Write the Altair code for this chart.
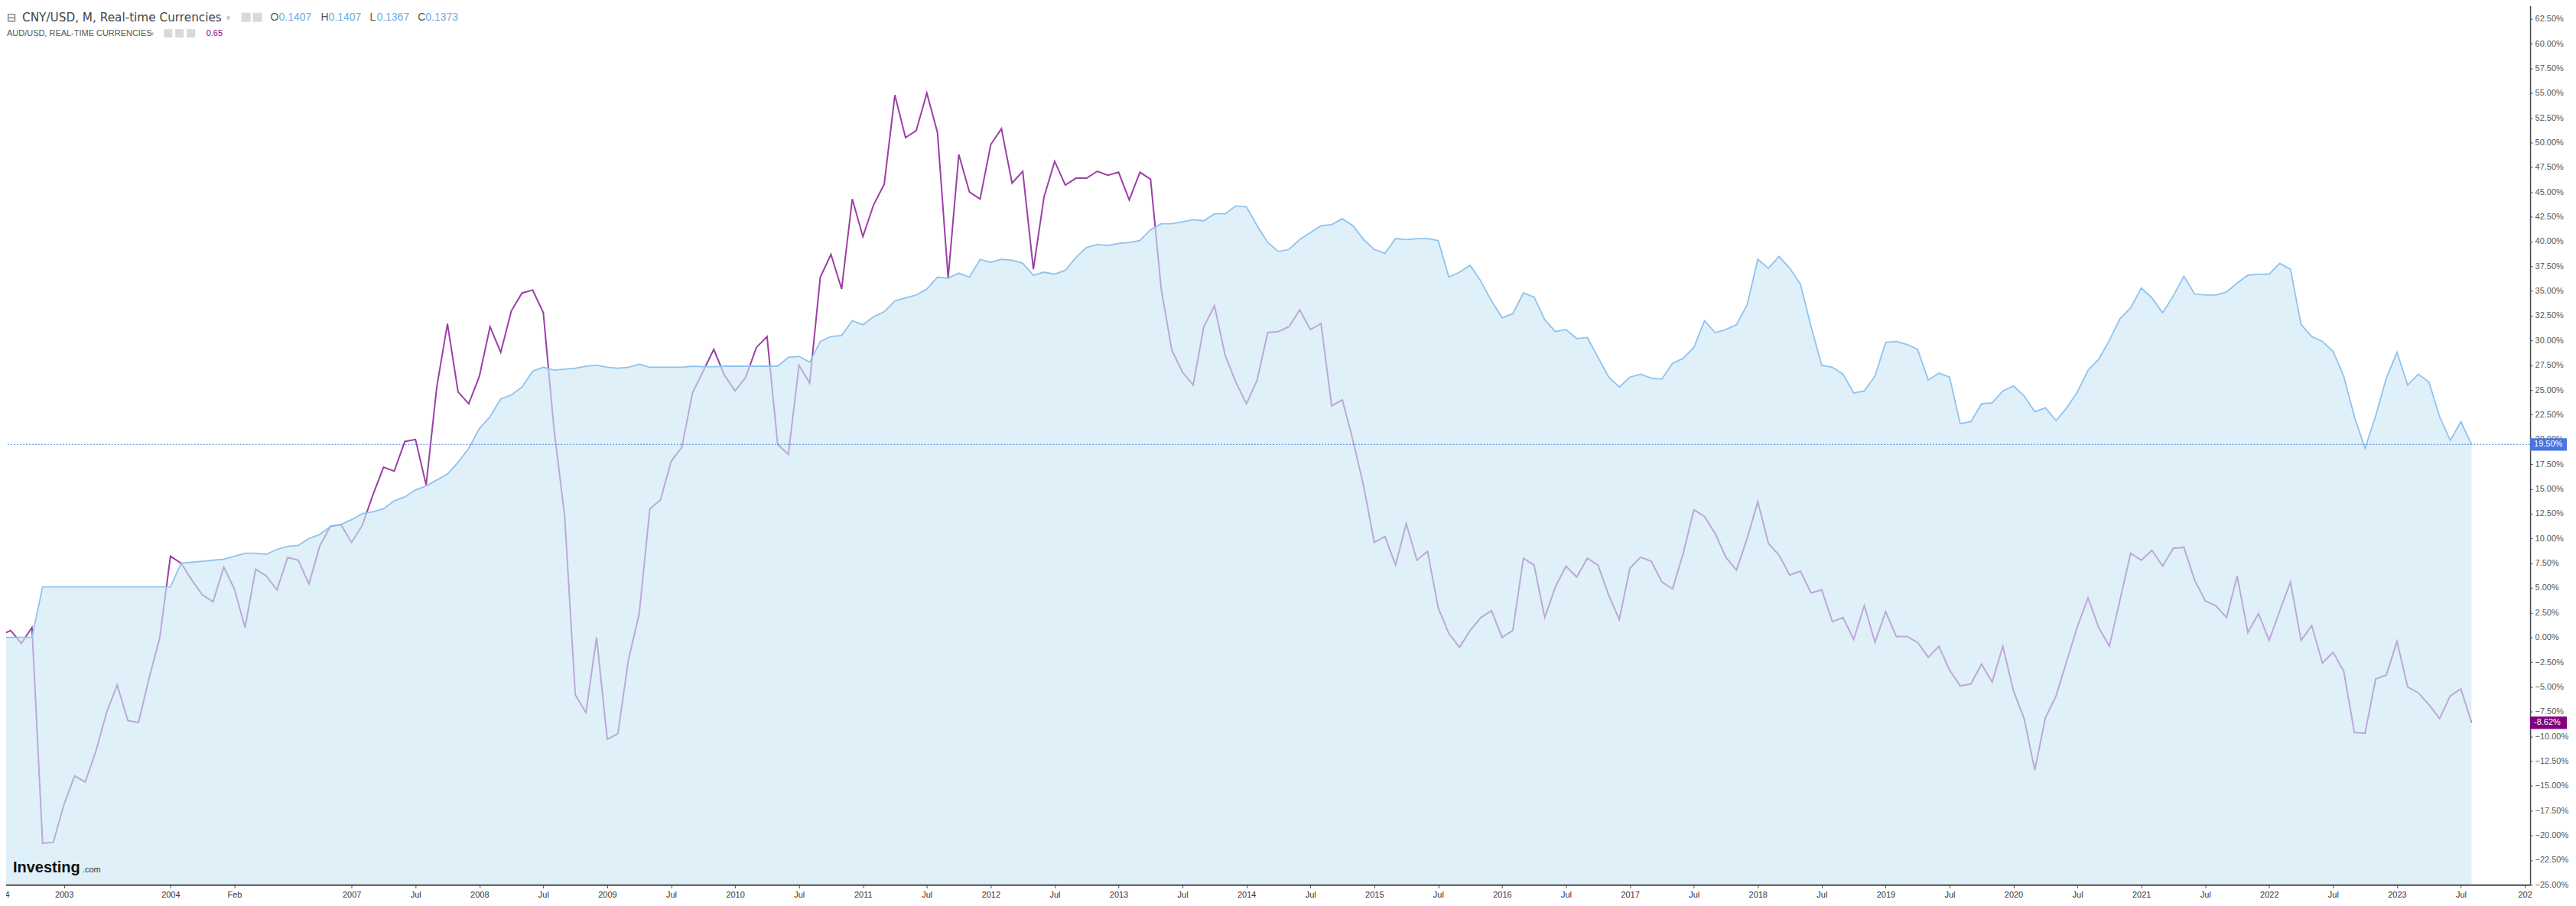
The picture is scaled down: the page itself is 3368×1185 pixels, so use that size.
import altair as alt
import pandas as pd

# ---- series values (% change), one value per monthly bar ----
cny_pct = [
    0.0, 0.0, 0.0, 0.0, 5.1, 5.1, 5.1, 5.1, 5.1, 5.1,
    5.1, 5.1, 5.1, 5.1, 5.1, 5.1, 5.1, 7.5, 7.6, 7.7,
    7.8, 7.9, 8.2, 8.5, 8.5, 8.4, 8.9, 9.2, 9.3, 10.0,
    10.4, 11.2, 11.4, 11.9, 12.5, 12.7, 13.0, 13.8, 14.2, 14.9,
    15.3, 15.9, 16.5, 17.7, 19.1, 21.1, 22.3, 24.1, 24.5, 25.3,
    26.9, 27.3, 27.0, 27.1, 27.2, 27.4, 27.5, 27.3, 27.2, 27.3,
    27.6, 27.3, 27.3, 27.3, 27.3, 27.4, 27.35, 27.35, 27.4, 27.4,
    27.4, 27.4, 27.4, 27.4, 28.3, 28.4, 27.8, 29.9, 30.4, 30.5,
    32.0, 31.6, 32.4, 32.9, 34.0, 34.3, 34.6, 35.2, 36.4, 36.3,
    36.8, 36.4, 38.2, 37.9, 38.2, 38.1, 37.8, 36.6, 36.9, 36.7,
    37.1, 38.4, 39.4, 39.7, 39.6, 39.8, 39.9, 40.1, 41.2, 41.8,
    41.8, 42.0, 42.2, 42.1, 42.8, 42.8, 43.6, 43.5, 41.6, 39.9,
    39.0, 39.2, 40.2, 40.9, 41.6, 41.7, 42.3, 41.6, 40.2, 39.2,
    38.8, 40.3, 40.2, 40.3, 40.3, 40.1, 36.4, 36.9, 37.6, 36.0,
    34.0, 32.3, 32.7, 34.8, 34.4, 32.1, 30.9, 31.1, 30.2, 30.3,
    28.3, 26.3, 25.3, 26.3, 26.6, 26.2, 26.1, 27.7, 28.2, 29.3,
    32.0, 30.8, 31.1, 31.6, 33.6, 38.2, 37.3, 38.5, 37.3, 35.7,
    31.4, 27.5, 27.3, 26.6, 24.7, 24.9, 26.4, 29.8, 29.9, 29.6,
    29.1, 26.0, 26.7, 26.3, 21.6, 21.8, 23.6, 23.7, 24.9, 25.4,
    24.4, 22.8, 23.2, 21.9, 23.2, 24.8, 27.0, 28.1, 30.0, 32.2,
    33.3, 35.3, 34.3, 32.8, 34.5, 36.5, 34.7, 34.6, 34.6, 34.9,
    35.8, 36.6, 36.7, 36.7, 37.8, 37.2, 31.6, 30.4, 29.9, 28.9,
    26.4, 22.3, 19.1, 22.4, 26.2, 28.8, 25.5, 26.6, 25.8, 22.3,
    19.9, 21.8, 19.5,
]

aud_pct = [
    0.2, 0.7, -0.6, 1.0, -20.8, -20.7, -16.9, -14.0, -14.6, -11.5,
    -7.6, -4.8, -8.4, -8.6, -4.1, 0.0, 8.2, 7.5, 5.8, 4.3,
    3.6, 7.1, 4.9, 1.0, 6.9, 6.2, 4.8, 8.1, 7.8, 5.4,
    9.2, 11.2, 11.4, 9.6, 11.3, 14.4, 17.2, 16.8, 19.8, 20.0,
    15.4, 25.3, 31.7, 24.8, 23.6, 26.4, 31.4, 28.8, 33.0, 34.8,
    35.1, 32.8, 21.1, 12.3, -5.8, -7.6, 0.0, -10.3, -9.7, -2.2,
    2.4, 13.0, 13.9, 17.8, 19.2, 24.7, 26.9, 29.1, 26.5, 24.9,
    26.3, 29.3, 30.4, 19.5, 18.5, 27.5, 25.7, 36.4, 38.7, 35.2,
    44.3, 40.5, 43.7, 45.8, 54.8, 50.5, 51.2, 55.0, 51.0, 36.3,
    48.8, 45.0, 44.3, 49.8, 51.4, 45.9, 47.1, 37.2, 44.5, 48.1,
    45.7, 46.4, 46.4, 47.1, 46.7, 47.0, 44.2, 47.0, 46.3, 35.2,
    29.0, 26.8, 25.5, 31.4, 33.5, 28.5, 25.8, 23.6, 26.0, 30.8,
    30.9, 31.4, 33.1, 31.1, 31.7, 23.4, 24.0, 19.9, 15.3, 9.6,
    10.2, 7.3, 11.5, 7.8, 8.7, 3.0, 0.4, -1.0, 0.7, 2.0,
    2.7, 0.0, 0.7, 8.0, 7.3, 2.0, 5.1, 7.2, 6.1, 8.0,
    7.3, 4.3, 1.8, 7.0, 8.1, 7.7, 5.6, 4.9, 8.5, 12.9,
    12.2, 10.5, 8.1, 6.8, 10.0, 13.7, 9.5, 8.3, 6.3, 6.7,
    4.5, 4.8, 1.6, 2.0, -0.2, 3.2, -0.5, 2.6, 0.1, 0.1,
    -0.5, -2.0, -0.9, -3.3, -4.9, -4.7, -2.7, -4.5, -0.9, -5.4,
    -8.2, -13.4, -8.1, -5.9, -2.4, 1.1, 4.0, 1.0, -0.9, 3.8,
    8.5, 7.8, 8.8, 7.2, 9.0, 9.1, 5.8, 3.7, 3.2, 2.0,
    6.2, 0.5, 2.4, -0.3, 2.7, 5.6, -0.3, 1.2, -2.6, -1.5,
    -3.4, -9.6, -9.7, -4.2, -3.8, -0.4, -5.0, -5.6, -6.8, -8.2,
    -5.9, -5.2, -8.62,
]

bar_index = list(range(len(cny_pct)))

# ---- axis ticks and labels ----
x_tick_index = [0, 6, 16, 22, 33, 39, 45, 51, 57, 63, 69, 75, 81, 87, 93, 99,
                105, 111, 117, 123, 129, 135, 141, 147, 153, 159, 165, 171,
                177, 183, 189, 195, 201, 207, 213, 219, 225, 231, 237]
x_tick_text = ["2004", "2003", "2004", "Feb", "2007", "Jul", "2008", "Jul",
               "2009", "Jul", "2010", "Jul", "2011", "Jul", "2012", "Jul",
               "2013", "Jul", "2014", "Jul", "2015", "Jul", "2016", "Jul",
               "2017", "Jul", "2018", "Jul", "2019", "Jul", "2020", "Jul",
               "2021", "Jul", "2022", "Jul", "2023", "Jul", "202"]
y_tick_values = [-25.0, -22.5, -20.0, -17.5, -15.0, -12.5, -10.0, -7.5, -5.0,
                 -2.5, 0.0, 2.5, 5.0, 7.5, 10.0, 12.5, 15.0, 17.5, 20.0, 22.5,
                 25.0, 27.5, 30.0, 32.5, 35.0, 37.5, 40.0, 42.5, 45.0, 47.5,
                 50.0, 52.5, 55.0, 57.5, 60.0, 62.5]

df = pd.DataFrame({"i": bar_index, "cny": cny_pct, "aud": aud_pct})
last_df = pd.DataFrame({
    "val": [cny_pct[-1], aud_pct[-1]],
    "label": [f"{cny_pct[-1]:.2f}%", f"{aud_pct[-1]:.2f}%"],
    "fill": ["#4a74df", "#800080"],
})

W, H = 3312, 1158
Y_MIN, Y_MAX = -25.0, 64.35
x_scale = alt.Scale(domain=[0, 237.5], nice=False, zero=False)
y_scale = alt.Scale(domain=[Y_MIN, Y_MAX], nice=False, zero=False)

label_expr = ("[" + ",".join("'%s'" % t for t in x_tick_text) + "][indexof(["
              + ",".join(str(v) for v in x_tick_index) + "], datum.value)]")

x_axis = alt.Axis(values=x_tick_index, labelExpr=label_expr, title=None,
                  grid=False, labelFlush=False, labelOverlap=False,
                  domainColor="#4a4a4a", domainWidth=2, tickColor="#4a4a4a",
                  tickSize=4, labelColor="#333333", labelFontSize=11,
                  labelFont="Liberation Sans Narrow, Arial Narrow, Liberation Sans, sans-serif",
                  labelPadding=3, zindex=1)
y_axis = alt.Axis(orient="right", values=y_tick_values,
                  labelExpr="format(datum.value, '.2f') + '%'", title=None,
                  grid=False, labelOverlap=False, labelFlush=False,
                  domainColor="#4a4a4a", domainWidth=1.5, tickColor="#4a4a4a",
                  tickSize=3, labelColor="#555555", labelFontSize=11,
                  labelFont="Liberation Sans, Arial, sans-serif", labelPadding=3)


def Y(field):
    return alt.Y(field, scale=y_scale, axis=y_axis)


base = alt.Chart(df).encode(x=alt.X("i:Q", scale=x_scale, axis=x_axis))

aud_line = base.mark_line(color="#9b3fa6", strokeWidth=2).encode(y=Y("aud:Q"))
cny_area = base.mark_area(fill="#cee7f6", fillOpacity=0.63).encode(
    y=Y("cny:Q"), y2=alt.datum(Y_MIN))
cny_line = base.mark_line(color="#8ec3ef", strokeWidth=1.8).encode(y=Y("cny:Q"))

hline = alt.Chart(last_df.iloc[[0]]).mark_rule(
    color="#4a7de8", strokeDash=[2, 2], strokeWidth=1).encode(y=Y("val:Q"))

boxes = alt.Chart(last_df).mark_point(
    shape="M-1,-0.34L1,-0.34L1,0.34L-1,0.34Z", filled=True, size=2304,
    opacity=1).encode(
    x=alt.value(3336), y=Y("val:Q"),
    color=alt.Color("fill:N", scale=None))
box_text = alt.Chart(last_df).mark_text(
    align="left", baseline="middle", color="white", fontSize=11,
    font="Liberation Sans, Arial, sans-serif").encode(
    x=alt.value(3317), y=Y("val:Q"), text="label:N")


def note(txt, x, y, size, color, font="Liberation Sans, Arial, sans-serif",
         weight="normal"):
    return alt.Chart(pd.DataFrame({"t": [txt]})).mark_text(
        align="left", baseline="middle", fontSize=size, color=color,
        font=font, fontWeight=weight).encode(
        x=alt.value(x), y=alt.value(y), text="t:N")


def chip(x, y, side=12, color="#d9d9d9"):
    return alt.Chart(pd.DataFrame({"t": [0]})).mark_square(
        size=side * side, color=color, opacity=1).encode(
        x=alt.value(x), y=alt.value(y))


texts = [
    note("⊟", 9, 22, 15, "#666666", font="DejaVu Sans"),
    note("CNY/USD, M, Real-time Currencies", 29, 22, 15.3, "#444444",
         font="DejaVu Sans, sans-serif"),
    note("▾", 296, 23, 11, "#c0c0c0", font="DejaVu Sans"),
    chip(322, 22), chip(337, 22),
    note("O", 354, 22, 14, "#555555"),
    note("0.1407", 365, 22, 14, "#6aaee9"),
    note("H", 420, 22, 14, "#555555"),
    note("0.1407", 430, 22, 14, "#6aaee9"),
    note("L", 484, 22, 14, "#555555"),
    note("0.1367", 493, 22, 14, "#6aaee9"),
    note("C", 547, 22, 14, "#555555"),
    note("0.1373", 557, 22, 14, "#6aaee9"),
    note("AUD/USD, REAL-TIME CURRENCIES", 9, 43, 11, "#555555"),
    note("▾", 197, 43, 9, "#c0c0c0", font="DejaVu Sans"),
    chip(220, 43, 11), chip(235, 43, 11), chip(250, 43, 11),
    note("0.65", 270, 43, 11, "#800080"),
    note("Investing", 17, 1136, 20, "#111111", weight="bold"),
    note(".com", 108, 1139, 11, "#333333"),
]

chart = alt.layer(aud_line, cny_area, cny_line, hline, boxes, box_text,
                  *texts).properties(
    width=W, height=H,
    autosize=alt.AutoSizeParams(type="none"),
    padding={"left": -8, "top": -8, "right": 52, "bottom": 20},
    background="white",
).configure_view(strokeWidth=0)

chart.save("out.html", embed_options={"renderer": "svg", "actions": False})
